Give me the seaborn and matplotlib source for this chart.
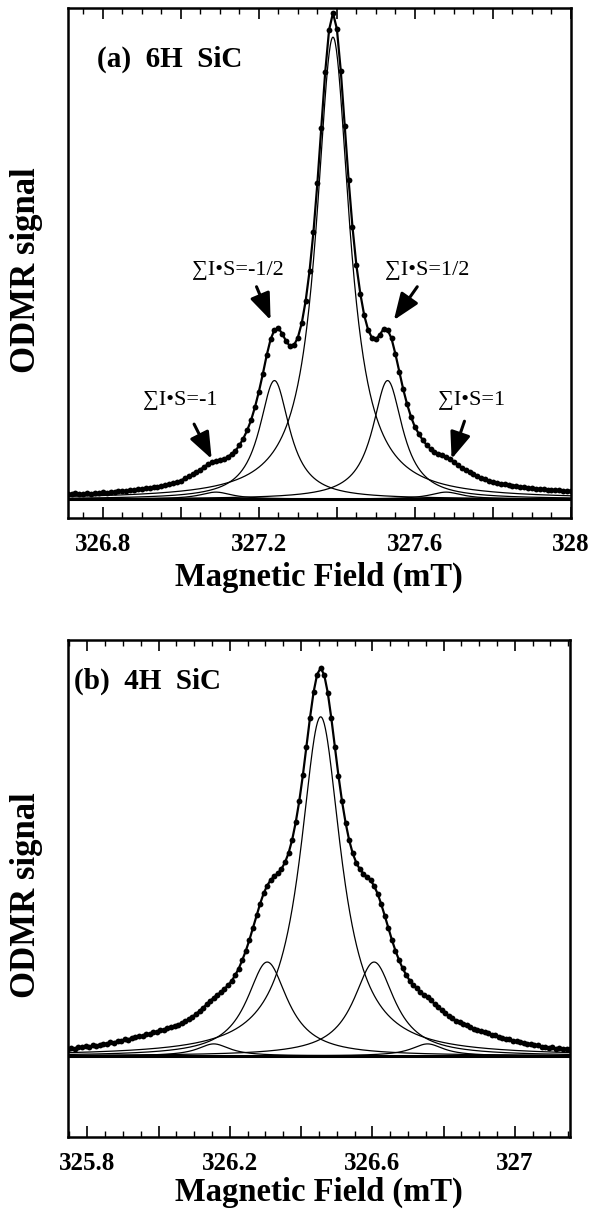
import numpy as np
import pandas as pd
import matplotlib
matplotlib.use("Agg")
import matplotlib.pyplot as plt
import seaborn as sns
from matplotlib.ticker import MultipleLocator, FuncFormatter

sns.set_theme(style="white")
plt.rcParams['font.family'] = ['Liberation Serif', 'DejaVu Serif']
plt.rcParams['axes.edgecolor'] = 'black'
plt.rcParams['text.color'] = 'black'
plt.rcParams['axes.labelcolor'] = 'black'
plt.rcParams['xtick.color'] = 'black'
plt.rcParams['ytick.color'] = 'black'

# ---------------- data: panel (a) 6H SiC ----------------
field_a = np.round(326.71 + 0.01 * np.arange(130), 3)
odmr_a = [
    .011, .010, .012, .010, .011, .012, .011, .013, .012, .014,
    .013, .015, .014, .016, .017, .016, .018, .019, .020, .021,
    .023, .023, .025, .026, .028, .029, .031, .033, .035, .038,
    .043, .047, .051, .056, .061, .067, .072, .076, .079, .081,
    .083, .087, .093, .100, .111, .125, .142, .163, .190, .222,
    .258, .297, .330, .350, .353, .342, .326, .316, .318, .334,
    .364, .410, .472, .553, .653, .767, .882, .970, 1.005, .972,
    .885, .772, .660, .562, .483, .425, .380, .350, .333, .330,
    .340, .352, .350, .332, .300, .263, .227, .196, .170, .149,
    .135, .122, .112, .104, .098, .094, .091, .088, .083, .077,
    .071, .065, .060, .055, .051, .047, .044, .041, .038, .036,
    .034, .032, .031, .029, .028, .027, .025, .024, .023, .022,
    .021, .021, .020, .019, .019, .018, .018, .017, .017, .016,
]
fit_a_centers = [327.39, 327.24, 327.53, 327.09, 327.68]
fit_a_heights = [0.955, 0.245, 0.245, 0.0144, 0.0144]
fit_a_widths = [0.0517, 0.047, 0.047, 0.05, 0.05]
ticklabels_a = [326.8, 327.2, 327.6, 328.0]

# ---------------- data: panel (b) 4H SiC ----------------
field_b = np.round(325.745 + 0.01 * np.arange(142), 3)
odmr_b = [
    .018, .021, .019, .023, .022, .025, .022, .027, .026, .029,
    .032, .031, .035, .034, .039, .039, .043, .042, .047, .048,
    .052, .051, .057, .056, .061, .062, .067, .067, .072, .074,
    .078, .080, .086, .089, .096, .101, .108, .116, .124, .133,
    .142, .150, .158, .164, .173, .182, .193, .208, .225, .247,
    .271, .299, .330, .362, .392, .419, .439, .454, .463, .471,
    .482, .499, .523, .557, .602, .657, .723, .797, .871, .937,
    .983, 1.000,
    .982, .936, .870, .796, .722, .656, .601, .556,
    .522, .498, .481, .470, .462, .453, .438, .418, .391, .361,
    .330, .299, .271, .247, .226, .209, .194, .183, .174, .165,
    .158, .151, .143, .134, .126, .118, .110, .103, .097, .091,
    .087, .082, .079, .075, .070, .068, .064, .061, .058, .054,
    .053, .049, .047, .044, .043, .039, .038, .035, .034, .031,
    .030, .028, .027, .024, .024, .021, .022, .019, .020, .018,
    .019, .017,
]
fit_b_centers = [326.455, 326.305, 326.605, 326.155, 326.755]
fit_b_heights = [0.874, 0.242, 0.242, 0.031, 0.031]
fit_b_widths = [0.07, 0.07, 0.07, 0.055, 0.055]
ticklabels_b = [325.8, 326.2, 326.6, 327.0]

SERIF = ['Liberation Serif', 'DejaVu Serif']


def make_formatter(labels):
    def f(x, pos):
        for v in labels:
            if abs(x - v) < 1e-6:
                return '%g' % v
        return ''
    return FuncFormatter(f)


def draw_panel(ax, field, odmr, centers, heights, widths, xlim, ylim, labels, title,
               title_xy, xlabel_y):
    grid = np.linspace(xlim[0], xlim[1], 900)
    for c, h, w in zip(centers, heights, widths):
        curve = h / (1.0 + ((grid - c) / w) ** 2)
        sns.lineplot(x=grid, y=curve, ax=ax, color='black', lw=0.9)
    ax.axhline(0, color='black', lw=2.2, zorder=1)
    sns.lineplot(x=field, y=odmr, ax=ax, color='black', lw=1.6, marker='o',
                 markersize=4.2, markeredgewidth=0, zorder=5)
    ax.set_xlim(*xlim)
    ax.set_ylim(*ylim)
    ax.set_yticks([])
    ax.xaxis.set_major_locator(MultipleLocator(0.2))
    ax.xaxis.set_minor_locator(MultipleLocator(0.05))
    ax.xaxis.set_major_formatter(make_formatter(labels))
    ax.tick_params(axis='x', which='major', direction='in', length=8, width=1.2,
                   top=True, bottom=True, pad=11)
    ax.tick_params(axis='x', which='minor', direction='in', length=4.5, width=1.0,
                   top=True, bottom=True)
    for t in ax.get_xticklabels():
        t.set_fontsize(18)
        t.set_fontweight('bold')
        t.set_family(SERIF)
    for s in ax.spines.values():
        s.set_linewidth(1.8)
        s.set_color('black')
    ax.set_xlabel('Magnetic Field (mT)', fontsize=23.5, fontweight='bold', family=SERIF)
    ax.set_ylabel('ODMR signal', fontsize=25, fontweight='bold', family=SERIF)
    ax.xaxis.set_label_coords(0.5, xlabel_y)
    ax.yaxis.set_label_coords(-0.05, 0.486)
    ax.text(title_xy[0], title_xy[1], title, transform=ax.transAxes, fontsize=21,
            fontweight='bold', family=SERIF, ha='left', va='center')


fig = plt.figure(figsize=(6.06, 12.11), dpi=100)
ax_a = fig.add_axes([0.1117, 0.5723, 0.8305, 0.4214])
ax_b = fig.add_axes([0.1117, 0.0611, 0.8290, 0.4104])

draw_panel(ax_a, field_a, odmr_a, fit_a_centers, fit_a_heights, fit_a_widths,
           (326.71, 328.0), (-0.039, 1.016), ticklabels_a, '(a)  6H  SiC', (0.058, 0.898),
           -0.086)
draw_panel(ax_b, field_b, odmr_b, fit_b_centers, fit_b_heights, fit_b_widths,
           (325.745, 327.155), (-0.209, 1.072), ticklabels_b, '(b)  4H  SiC', (0.0125, 0.917),
           -0.079)

arrow = dict(arrowstyle='-|>,head_length=0.9,head_width=0.35', lw=2.2, color='black',
             shrinkA=0, shrinkB=0, mutation_scale=18)
annots = [
    ('\u2211I\u2022S=-1/2', (327.145, 0.4735), (327.194, 0.439), (327.230, 0.370)),
    ('\u2211I\u2022S=1/2', (327.632, 0.4735), (327.606, 0.439), (327.546, 0.370)),
    ('\u2211I\u2022S=-1', (326.998, 0.205), (327.034, 0.155), (327.079, 0.083)),
    ('\u2211I\u2022S=1', (327.746, 0.205), (327.727, 0.161), (327.694, 0.083)),
]
for txt, tpos, tail, head in annots:
    ax_a.text(tpos[0], tpos[1], txt, fontsize=16, family=SERIF, ha='center', va='center')
    ax_a.annotate('', xy=head, xytext=tail, arrowprops=arrow)

fig.savefig('out.png', dpi=100)
